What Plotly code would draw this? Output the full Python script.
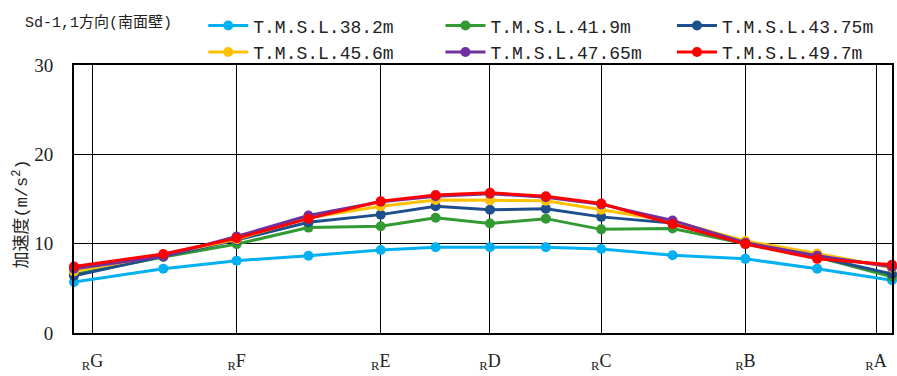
import plotly.graph_objects as go

# x positions along the wall (relative units), gridline positions and labels
pts_x = [0, 89.5, 163, 235, 307.5, 362.5, 417, 473, 528.5, 600, 673, 745, 820]
grid_x = [18.5, 163, 307.5, 417, 528.5, 673, 804]
grid_labels = ["<sub>R</sub>G", "<sub>R</sub>F", "<sub>R</sub>E", "<sub>R</sub>D",
               "<sub>R</sub>C", "<sub>R</sub>B", "<sub>R</sub>A"]

names = ["T.M.S.L.38.2m", "T.M.S.L.41.9m", "T.M.S.L.43.75m",
         "T.M.S.L.45.6m", "T.M.S.L.47.65m", "T.M.S.L.49.7m"]
colors = ["#00B0F0", "#339933", "#1F4E8C", "#FFC000", "#7030A0", "#FF0000"]
legend_ids = ["legend", "legend2", "legend3", "legend", "legend2", "legend3"]

v_382 = [5.7, 7.2, 8.1, 8.65, 9.3, 9.6, 9.6, 9.6, 9.4, 8.7, 8.3, 7.2, 5.9]
v_419 = [6.55, 8.5, 9.95, 11.8, 11.95, 12.9, 12.25, 12.8, 11.6, 11.7, 10.0, 8.5, 6.3]
v_4375 = [6.4, 8.6, 10.4, 12.4, 13.25, 14.2, 13.8, 13.9, 13.0, 12.3, 10.0, 8.5, 6.6]
v_456 = [6.9, 8.75, 10.5, 12.9, 14.2, 14.9, 14.85, 14.8, 13.8, 12.5, 10.3, 8.9, 7.3]
v_4765 = [7.2, 8.6, 10.8, 13.15, 14.7, 15.3, 15.6, 15.2, 14.4, 12.6, 10.1, 8.65, 7.4]
v_497 = [7.45, 8.85, 10.6, 12.8, 14.75, 15.45, 15.7, 15.3, 14.5, 12.2, 9.95, 8.3, 7.65]
series = [v_382, v_419, v_4375, v_456, v_4765, v_497]

y_ticks = [0, 10, 20, 30]

fig = go.Figure()
for name, col, vals, lg in zip(names, colors, series, legend_ids):
    fig.add_trace(go.Scatter(
        x=pts_x, y=vals, name=name, mode="lines+markers",
        line=dict(color=col, width=3),
        marker=dict(color=col, size=10),
        cliponaxis=False, legend=lg,
    ))

leg_common = dict(
    orientation="v", xanchor="left", y=1.215, yanchor="top",
    font=dict(family="Liberation Mono", size=18, color="#222"),
    itemwidth=40, tracegroupgap=0, bgcolor="rgba(0,0,0,0)",
)

fig.update_layout(
    width=897, height=376,
    margin=dict(l=74, r=3, t=65, b=38),
    paper_bgcolor="white", plot_bgcolor="white",
    font=dict(family="Liberation Serif", color="#222"),
    legend=dict(x=0.158, **leg_common),
    legend2=dict(x=0.448, **leg_common),
    legend3=dict(x=0.731, **leg_common),
    showlegend=True,
)

fig.update_xaxes(
    range=[0, 820], tickmode="array", tickvals=grid_x, ticktext=grid_labels,
    showgrid=True, gridcolor="#000", gridwidth=1,
    showline=True, linecolor="#000", linewidth=2, mirror=True,
    ticks="", ticklabelstandoff=10, zeroline=False,
    tickfont=dict(family="Liberation Serif", size=18, color="#222"),
)
fig.update_yaxes(
    range=[0, 30], tickmode="array", tickvals=y_ticks,
    showgrid=True, gridcolor="#000", gridwidth=1,
    showline=True, linecolor="#000", linewidth=2, mirror=True,
    ticks="", ticklabelstandoff=15, zeroline=False,
    tickfont=dict(family="Liberation Serif", size=19, color="#222"),
)

fig.add_annotation(
    text="Sd-1,1方向(南面壁)", xref="paper", yref="paper",
    x=-0.062, y=1.158, xanchor="left", yanchor="middle", showarrow=False,
    font=dict(family="Liberation Mono, Noto Sans CJK JP", size=15, color="#222"),
)
fig.add_annotation(
    text="加速度(m/s<sup>2</sup>)", xref="paper", yref="paper",
    x=-0.065, y=0.445, xanchor="center", yanchor="middle", showarrow=False,
    textangle=-90,
    font=dict(family="Liberation Mono, Noto Sans CJK JP", size=17, color="#222"),
)

fig.write_html("out.html")
